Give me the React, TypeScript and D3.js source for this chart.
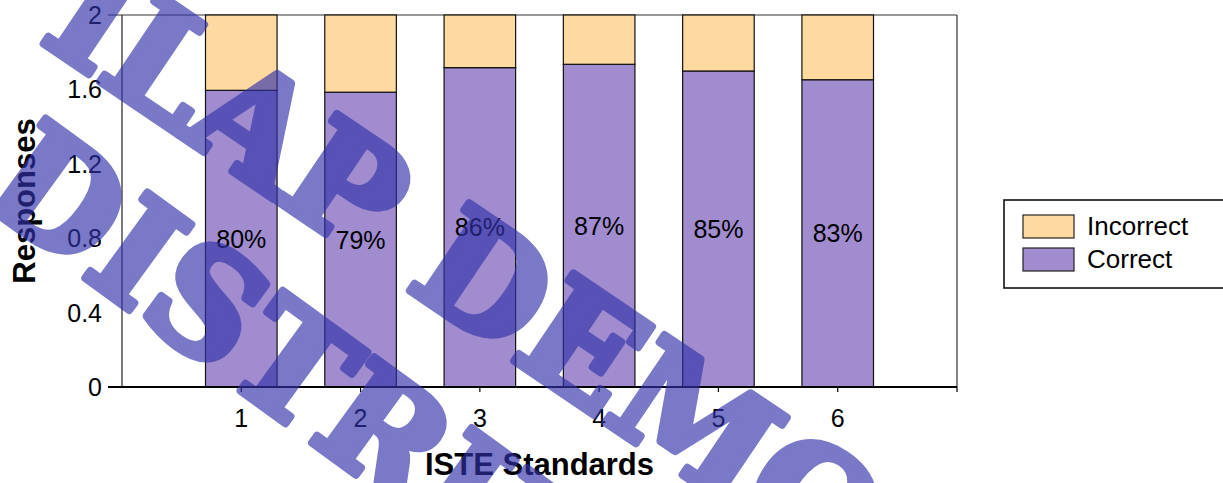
import React, { useEffect, useRef } from 'react';
import * as d3 from 'd3';

const categories = ['1', '2', '3', '4', '5', '6'];
const correct = [1.595, 1.585, 1.717, 1.735, 1.699, 1.652];
const incorrect = [0.405, 0.415, 0.283, 0.265, 0.301, 0.348];
const pctLabels = ['80%', '79%', '86%', '87%', '85%', '83%'];
const yTicks = [0, 0.4, 0.8, 1.2, 1.6, 2];
const seriesNames = ['Incorrect', 'Correct'];
const seriesColors = ['#FFDAA0', '#A08CCF'];

// watermark lines over the picture
const watermark = [
  { text: 'ILAP DEMO', x: 38, y: 40, angle: 34 },
  { text: 'DISTRIBUTION', x: -22, y: 200, angle: 36 },
];

const W = 1223;
const H = 483;
const FONT = '"Liberation Sans", Arial, sans-serif';

const App = () => {
  const ref = useRef<SVGSVGElement | null>(null);

  useEffect(() => {
    const svg = d3.select(ref.current);
    svg.selectAll('*').remove();

    const left = 122, right = 957, top = 15, bottom = 387;
    // categories sit at 1..6 on a 0..7 axis
    const x = d3.scaleLinear().domain([0, categories.length + 1]).range([left, right]);
    const y = d3.scaleLinear().domain([0, 2]).range([bottom, top]);
    const barW = x(0.6) - x(0);

    const rows = categories.map((c, i) => ({ cat: c, i, Correct: correct[i], Incorrect: incorrect[i] }));
    const stack = d3.stack<any>().keys(['Correct', 'Incorrect']);
    const layers = stack(rows);

    svg.append('rect').attr('width', W).attr('height', H).attr('fill', 'white');

    // plot frame
    svg.append('line').attr('x1', 108).attr('x2', right).attr('y1', top).attr('y2', top)
      .attr('stroke', '#333').attr('stroke-width', 1.2);
    svg.append('line').attr('x1', left).attr('x2', left).attr('y1', top).attr('y2', bottom)
      .attr('stroke', '#222').attr('stroke-width', 1.2);
    svg.append('line').attr('x1', right).attr('x2', right).attr('y1', top).attr('y2', bottom)
      .attr('stroke', '#333').attr('stroke-width', 1.2);

    // bars
    layers.forEach(layer => {
      const color = layer.key === 'Correct' ? seriesColors[1] : seriesColors[0];
      svg.append('g').selectAll('rect')
        .data(layer)
        .enter()
        .append('rect')
        .attr('x', (d: any) => x(d.data.i + 1) - barW / 2)
        .attr('y', (d: any) => y(d[1]))
        .attr('width', barW)
        .attr('height', (d: any) => y(d[0]) - y(d[1]))
        .attr('fill', color)
        .attr('stroke', '#111')
        .attr('stroke-width', 1.2);
    });

    // percent labels in the middle of the correct part
    svg.append('g').selectAll('text')
      .data(rows)
      .enter()
      .append('text')
      .attr('x', d => x(d.i + 1))
      .attr('y', d => y(d.Correct / 2))
      .attr('text-anchor', 'middle')
      .attr('dominant-baseline', 'central')
      .style('font-family', FONT)
      .style('font-size', '25px')
      .text((d, i) => pctLabels[i]);

    // x axis
    svg.append('line').attr('x1', 108).attr('x2', right).attr('y1', bottom).attr('y2', bottom)
      .attr('stroke', '#000').attr('stroke-width', 2);
    const xt = d3.range(1, categories.length + 2);
    svg.append('g').selectAll('line')
      .data(xt)
      .enter()
      .append('line')
      .attr('x1', d => x(d)).attr('x2', d => x(d))
      .attr('y1', bottom).attr('y2', bottom + 5)
      .attr('stroke', '#000').attr('stroke-width', 1.2);
    svg.append('g').selectAll('text')
      .data(categories)
      .enter()
      .append('text')
      .attr('x', (d, i) => x(i + 1))
      .attr('y', 427)
      .attr('text-anchor', 'middle')
      .style('font-family', FONT)
      .style('font-size', '25px')
      .text(d => d);

    // y labels
    svg.append('g').selectAll('text')
      .data(yTicks)
      .enter()
      .append('text')
      .attr('x', 102)
      .attr('y', d => y(d))
      .attr('text-anchor', 'end')
      .attr('dominant-baseline', 'central')
      .style('font-family', FONT)
      .style('font-size', '25px')
      .text(d => String(d));

    // axis titles
    svg.append('text')
      .attr('x', (left + right) / 2)
      .attr('y', 475)
      .attr('text-anchor', 'middle')
      .style('font-family', FONT)
      .style('font-size', '31px')
      .style('font-weight', 'bold')
      .text('ISTE Standards');
    svg.append('text')
      .attr('transform', `translate(35, ${(top + bottom) / 2}) rotate(-90)`)
      .attr('text-anchor', 'middle')
      .style('font-family', FONT)
      .style('font-size', '31px')
      .style('font-weight', 'bold')
      .text('Responses');

    // legend
    const lg = svg.append('g').attr('transform', 'translate(1004, 200)');
    lg.append('rect').attr('width', 260).attr('height', 88)
      .attr('fill', 'white').attr('stroke', '#000').attr('stroke-width', 1.5);
    seriesNames.forEach((name, i) => {
      lg.append('rect')
        .attr('x', 19).attr('y', 15 + i * 33)
        .attr('width', 51).attr('height', 23)
        .attr('fill', seriesColors[i]).attr('stroke', '#222').attr('stroke-width', 1.2);
      lg.append('text')
        .attr('x', 83).attr('y', 26 + i * 33)
        .attr('dominant-baseline', 'central')
        .style('font-family', FONT)
        .style('font-size', '26px')
        .text(name);
    });

    // watermark on top
    const wm = svg.append('g').attr('opacity', 0.65);
    watermark.forEach(w => {
      wm.append('text')
        .attr('transform', `translate(${w.x}, ${w.y}) rotate(${w.angle})`)
        .style('font-family', '"DejaVu Serif", serif')
        .style('font-weight', 'bold')
        .style('font-size', '145px')
        .attr('fill', 'rgb(50,50,170)')
        .attr('stroke', 'rgb(50,50,170)')
        .attr('stroke-width', 8)
        .attr('stroke-linejoin', 'round')
        .text(w.text);
    });
  }, []);

  return (
    <svg
      ref={ref}
      width={W}
      height={H}
      style={{ position: 'absolute', left: 0, top: 0, display: 'block' }}
    />
  );
};

export default App;
